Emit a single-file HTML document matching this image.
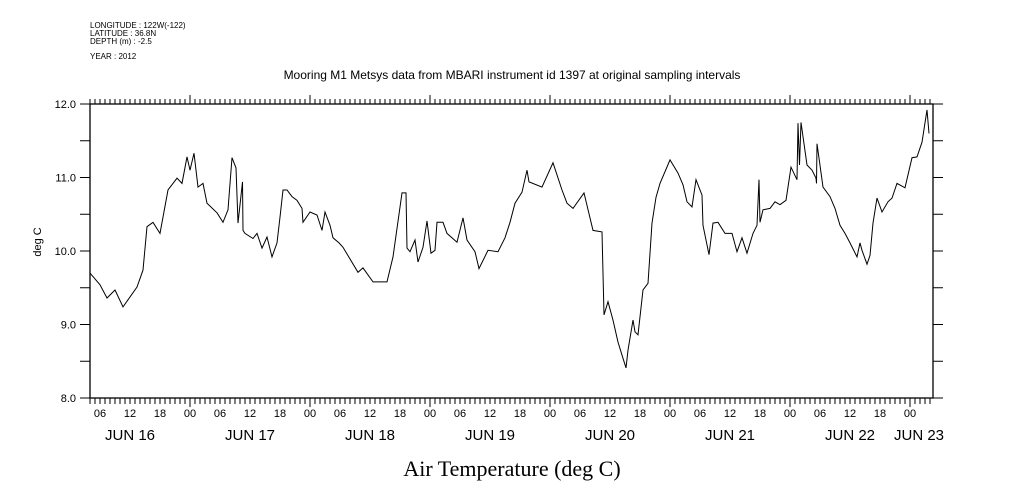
<!DOCTYPE html>
<html><head><meta charset="utf-8"><style>
body{margin:0;background:#fff}
svg{display:block}
text{font-family:"Liberation Sans",sans-serif;fill:#000}
</style></head><body>
<svg id="c" width="1009" height="504"></svg>
<script>
const hours=[4,6,7.4,9,10.6,13.4,14.6,15.4,16.6,18,19.6,21.4,22.4,23.4,24,24.8,25.6,26.6,27.4,29.4,30.6,31.6,32.4,33.2,33.6,34.5,34.6,35,36.6,37.4,38.4,39.4,40.4,41.4,42,42.6,43.4,44.4,45.4,46.4,46.6,48,49.4,50.4,51,52,52.6,53.8,54.6,57.6,58.6,60.6,63.4,64.6,66.4,67.2,67.4,68,69,69.6,70.6,71.4,72.2,73,73.4,74.6,75.4,77.4,78.6,79.4,81,81.8,83.6,85.6,87,88,89,90.4,91.4,91.8,94.4,96.6,98.4,99.4,100.6,102.8,104,104.6,106.4,106.6,106.8,107.6,108.6,109.6,110.6,111.2,111.6,112.6,113,113.6,114.6,115.6,116.4,117.2,118,120,121.6,122.6,123.4,124.4,125.2,126.4,126.6,127.8,128.6,129.6,131,132.4,133.4,134.4,135.4,136.6,137.4,137.8,138,138.6,140,141,142,143.2,144.2,145.4,145.6,145.9,146.2,147.4,148.4,149.2,149.3,149.4,150.6,152,153,154,155,156,157.4,158,158.4,159.4,160,160.6,161.4,162.4,163.6,164.4,165.4,167,168.4,169.4,170.4,171.4,171.8];
const temps=[9.70,9.54,9.36,9.47,9.24,9.51,9.74,10.33,10.39,10.24,10.83,10.99,10.92,11.28,11.10,11.33,10.87,10.92,10.65,10.52,10.39,10.56,11.27,11.13,10.38,10.94,10.28,10.24,10.17,10.24,10.04,10.19,9.92,10.11,10.46,10.83,10.83,10.74,10.69,10.58,10.39,10.53,10.49,10.28,10.53,10.35,10.18,10.11,10.05,9.71,9.77,9.58,9.58,9.92,10.79,10.79,10.04,9.99,10.15,9.85,10.05,10.41,9.97,10.01,10.39,10.39,10.24,10.12,10.45,10.15,9.99,9.76,10.01,9.99,10.18,10.39,10.65,10.80,11.10,10.94,10.87,11.20,10.83,10.65,10.58,10.79,10.45,10.28,10.26,9.70,9.13,9.31,9.06,8.76,8.54,8.41,8.65,9.06,8.90,8.86,9.47,9.56,10.38,10.73,10.92,11.24,11.06,10.90,10.67,10.60,10.97,10.76,10.35,9.95,10.38,10.39,10.24,10.24,9.99,10.18,9.97,10.24,10.35,10.97,10.39,10.56,10.58,10.67,10.63,10.69,11.14,10.97,11.74,11.17,11.75,11.17,11.10,10.99,10.92,11.46,10.87,10.74,10.58,10.35,10.24,10.11,9.92,10.11,10.01,9.82,9.94,10.38,10.72,10.53,10.67,10.72,10.92,10.86,11.27,11.28,11.48,11.92,11.60,11.58];
const yTicks=[8,8.5,9,9.5,10,10.5,11,11.5,12];
const yLabels=["8.0","","9.0","","10.0","","11.0","","12.0"];
const hourLabels=["06","12","18","00"];
const dayNames=["JUN 16","JUN 17","JUN 18","JUN 19","JUN 20","JUN 21","JUN 22","JUN 23"];
const L=90,R=933,T=104,B=398,h0=4,h1=172.6;
const X=h=>L+(h-h0)*(R-L)/(h1-h0);
const Y=v=>B-(v-8)*(B-T)/4;
const svg=document.getElementById('c');
const NS='http://www.w3.org/2000/svg';
function mk(tag,attrs,parent){const e=document.createElementNS(NS,tag);for(const k in attrs)e.setAttribute(k,attrs[k]);(parent||svg).appendChild(e);return e;}
function txt(s,x,y,size,anchor,name,extra){const t=mk('text',Object.assign({x:x,y:y,'font-size':size,'text-anchor':anchor||'start'},extra||{}));t.textContent=s;return t;}
// header
txt("LONGITUDE : 122W(-122)",90,28,8,'start','longitude-label');
txt("LATITUDE : 36.8N",90,36,8,'start','latitude-label');
txt("DEPTH (m) : -2.5",90,44,8,'start','depth-label');
txt("YEAR : 2012",90,59,8,'start','year-label');
txt("Mooring M1 Metsys data from MBARI instrument id 1397 at original sampling intervals",512,79,12,'middle','chart-title');
txt("Air Temperature (deg C)",512,476,22,'middle','x-axis-title',{style:'font-family:"Liberation Serif",serif'});
const yt=txt("deg C",0,0,11,'middle','y-axis-title',{transform:'translate(41,242) rotate(-90)'});
// frame
const fr=mk('rect',{x:L,y:T,width:R-L,height:B-T,fill:'none',stroke:'#000','stroke-width':1.3});


// y ticks
const ga=mk('g',{stroke:'#000','stroke-width':1});


yTicks.forEach((v,i)=>{const y=Y(v);mk('line',{x1:L-10,x2:L,y1:y,y2:y},ga);mk('line',{x1:R,x2:R+10,y1:y,y2:y},ga);
 if(yLabels[i])txt(yLabels[i],L-14,y+4,11,'end','y-tick-label');});
// x ticks
for(let h=h0;h<=h1;h++){const x=X(h);const major=(h%24===0);
 mk('line',{x1:x,x2:x,y1:B,y2:B+(major?9:6)},ga);mk('line',{x1:x,x2:x,y1:T,y2:T-(major?9:5)},ga);
 if(h%6===0&&h>h0)txt(hourLabels[(h/6-1)%4],x,417,11,'middle','x-tick-label');}
dayNames.forEach((d,i)=>{let x=X(i*24+12);x=Math.min(x,R-14);txt(d,x,440,15,'middle','day-label');});
// series
const pts=hours.map((h,i)=>X(h).toFixed(1)+','+Y(temps[i]).toFixed(1)).join(' ');
const pl=mk('polyline',{points:pts,fill:'none',stroke:'#000','stroke-width':1});


</script>
</body></html>
